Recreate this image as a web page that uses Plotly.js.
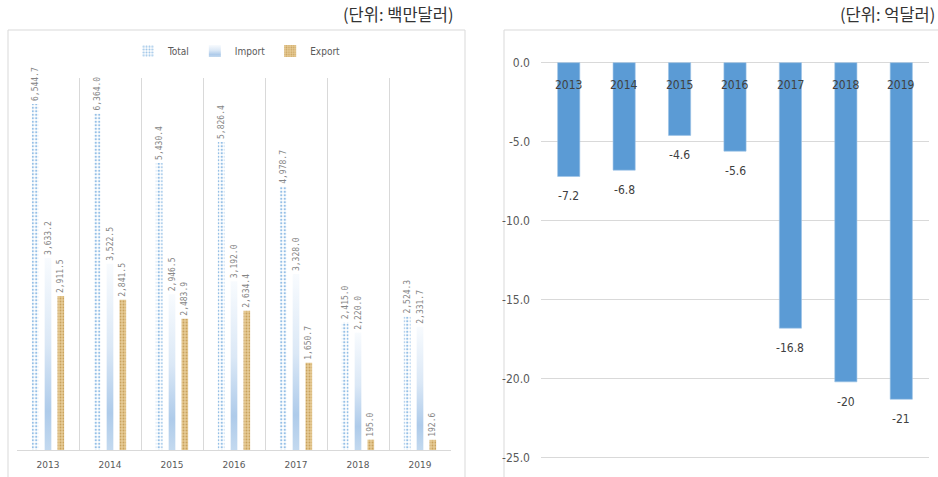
<!DOCTYPE html>
<html>
<head>
<meta charset="utf-8">
<script src="https://cdn.plot.ly/plotly-3.0.1.min.js"></script>
<style>
html,body{margin:0;padding:0;background:#fff;}
#chart{width:938px;height:477px;}
.subplot.xy .bars .textpoint text{letter-spacing:1.2px;}
</style>
</head>
<body>
<div id="chart"></div>
<script>
// ---- data ----
const years = ['2013','2014','2015','2016','2017','2018','2019'];
const totalVals  = [6544.7, 6364.0, 5430.4, 5826.4, 4978.7, 2415.0, 2524.3];
const importVals = [3633.2, 3522.5, 2946.5, 3192.0, 3328.0, 2220.0, 2331.7];
const exportVals = [2911.5, 2841.5, 2483.9, 2634.4, 1650.7, 195.0, 192.6];
const balanceVals = [-7.2, -6.8, -4.6, -5.6, -16.8, -20.2, -21.3];
const balanceLabels = ['-7.2','-6.8','-4.6','-5.6','-16.8','-20','-21'];
const balTickVals = [0, -5, -10, -15, -20, -25];
const balTickText = ['0.0','-5.0','-10.0','-15.0','-20.0','-25.0'];
const seriesNames = ['Total','Import','Export'];
const unitLeft = '(단위: 백만달러)';
const unitRight = '(단위: 억달러)';

const W = 938, H = 477;
const px = v => v / W;
const py = v => (H - v) / H;

const monoFont = {family: '"DejaVu Sans Mono", monospace', size: 8, color: '#858585'};
const narrow = '"Liberation Sans Narrow", "DejaVu Sans Condensed", "Arial Narrow", "Noto Sans", sans-serif';

const leftText = {
  texttemplate: '%{y:,.1f}', textposition: 'outside', textangle: -90,
  textfont: monoFont, cliponaxis: false, constraintext: 'none'
};

const data = [
  Object.assign({
    type: 'bar', name: seriesNames[0], x: years, y: totalVals, xaxis: 'x', yaxis: 'y',
    marker: {color: '#ffffff', pattern: {shape: '.', fgcolor: '#95bfe6', bgcolor: '#ffffff', size: 3.5, solidity: 0.35}},
    hoverinfo: 'skip'
  }, leftText),
  Object.assign({
    type: 'bar', name: seriesNames[1], x: years, y: importVals, xaxis: 'x', yaxis: 'y',
    marker: {color: '#bcd5ee'}, hoverinfo: 'skip'
  }, leftText),
  Object.assign({
    type: 'bar', name: seriesNames[2], x: years, y: exportVals, xaxis: 'x', yaxis: 'y',
    marker: {color: '#e3c68c', pattern: {shape: '.', fgcolor: '#c9a25e', bgcolor: '#e6cb95', size: 3, solidity: 0.3}},
    hoverinfo: 'skip'
  }, leftText),
  {
    type: 'bar', name: 'Balance', x: years, y: balanceVals, xaxis: 'x2', yaxis: 'y2',
    width: 0.4, showlegend: false,
    marker: {color: '#5b9bd5', line: {color: '#9cc3e6', width: 0.6}},
    hoverinfo: 'skip'
  }
];

const annotations = [
  {xref: 'paper', yref: 'paper', x: px(456), y: py(14), xanchor: 'right', yanchor: 'middle',
   text: unitLeft, showarrow: false, font: {family: '"Noto Sans CJK KR", sans-serif', size: 16.5, color: '#333333'}},
  {xref: 'paper', yref: 'paper', x: px(937), y: py(14), xanchor: 'right', yanchor: 'middle',
   text: unitRight, showarrow: false, font: {family: '"Noto Sans CJK KR", sans-serif', size: 16.5, color: '#333333'}}
];
// right chart: category labels next to the axis (at 0) and value labels under each bar
years.forEach((yr, i) => {
  annotations.push({
    xref: 'x2', yref: 'y2', x: i, y: 0, text: yr,
    showarrow: false, yanchor: 'middle', yshift: -22,
    font: {family: narrow, size: 12, color: '#404040'}
  });
  annotations.push({
    xref: 'x2', yref: 'y2', x: i, y: balanceVals[i], text: balanceLabels[i],
    showarrow: false, yanchor: 'middle', yshift: -20,
    font: {family: narrow, size: 12, color: '#404040'}
  });
});

// right plot: 0 line at y=62.7px, 15.8 px per unit
const zeroPx = 62.7, pxPerUnit = 15.8, topUnits = 1.5;
const topPx = zeroPx - topUnits * pxPerUnit;
const bottomUnits = -(H - zeroPx) / pxPerUnit;

const layout = {
  width: W, height: H,
  margin: {l: 0, r: 0, t: 0, b: 0},
  paper_bgcolor: '#ffffff', plot_bgcolor: 'rgba(0,0,0,0)',
  barmode: 'group', bargap: 0.38, bargroupgap: 0.48,
  showlegend: true,
  legend: {orientation: 'h', x: px(237), xanchor: 'center', y: py(51), yanchor: 'middle',
           font: {family: narrow, size: 10, color: '#595959'}, itemwidth: 30, tracegroupgap: 0,
           bgcolor: 'rgba(0,0,0,0)'},
  xaxis: {domain: [px(17), px(451)], anchor: 'y', type: 'category', tickson: 'boundaries',
          range: [-0.5, years.length - 0.5], autorange: false,
          showgrid: true, gridcolor: '#d9d9d9', gridwidth: 1, showline: true, linecolor: '#d9d9d9',
          ticks: '', ticklabelstandoff: 6,
          tickfont: {family: '"DejaVu Sans", sans-serif', size: 9, color: '#595959'}, fixedrange: true},
  yaxis: {domain: [py(450), py(78)], anchor: 'x', range: [0, 7036], autorange: false, visible: false, showgrid: false, fixedrange: true},
  xaxis2: {domain: [px(541), px(929)], anchor: 'y2', type: 'category',
           range: [-0.5, years.length - 0.5], autorange: false,
           showticklabels: false, ticks: '', showgrid: false, showline: false, zeroline: false, fixedrange: true},
  yaxis2: {domain: [0, py(topPx)], anchor: 'x2', range: [bottomUnits, topUnits], autorange: false,
           tickvals: balTickVals, ticktext: balTickText, showgrid: true, gridcolor: '#d9d9d9', gridwidth: 1.5,
           zeroline: false, showline: false, ticks: '', ticklabelstandoff: 10,
           tickfont: {family: narrow, size: 12, color: '#595959'}, fixedrange: true},
  shapes: [
    {type: 'rect', xref: 'paper', yref: 'paper', x0: px(8), x1: px(465), y0: -0.05, y1: py(30),
     line: {color: '#d9d9d9', width: 1}, fillcolor: 'rgba(0,0,0,0)', layer: 'below'},
    {type: 'rect', xref: 'paper', yref: 'paper', x0: px(504), x1: 1.05, y0: -0.05, y1: py(30),
     line: {color: '#d9d9d9', width: 1}, fillcolor: 'rgba(0,0,0,0)', layer: 'below'}
  ],
  annotations: annotations
};

Plotly.newPlot('chart', data, layout, {displayModeBar: false, staticPlot: true}).then(gd => {
  // vertical gradient fill for Import bars (Excel-like gradient)
  const svg = gd.querySelector('.main-svg');
  const ns = 'http://www.w3.org/2000/svg';
  let defs = svg.querySelector('defs');
  if (!defs) { defs = document.createElementNS(ns, 'defs'); svg.insertBefore(defs, svg.firstChild); }
  const grad = document.createElementNS(ns, 'linearGradient');
  grad.setAttribute('id', 'impGrad');
  grad.setAttribute('x1', '0'); grad.setAttribute('y1', '0');
  grad.setAttribute('x2', '0'); grad.setAttribute('y2', '1');
  [['0', '#f8fbfe'], ['0.45', '#dbe8f6'], ['0.8', '#aecbea'], ['1', '#c3d9ef']].forEach(([o, c]) => {
    const s = document.createElementNS(ns, 'stop');
    s.setAttribute('offset', o); s.setAttribute('stop-color', c);
    grad.appendChild(s);
  });
  defs.appendChild(grad);
  const traces = gd.querySelectorAll('.subplot.xy .trace.bars');
  if (traces[1]) {
    traces[1].querySelectorAll('path').forEach(p => { p.style.fill = 'url(#impGrad)'; });
  }
  const legTraces = gd.querySelectorAll('.legend .traces');
  if (legTraces[1]) {
    legTraces[1].querySelectorAll('.legendpoints path').forEach(p => { p.style.fill = 'url(#impGrad)'; });
  }
});
</script>
</body>
</html>
